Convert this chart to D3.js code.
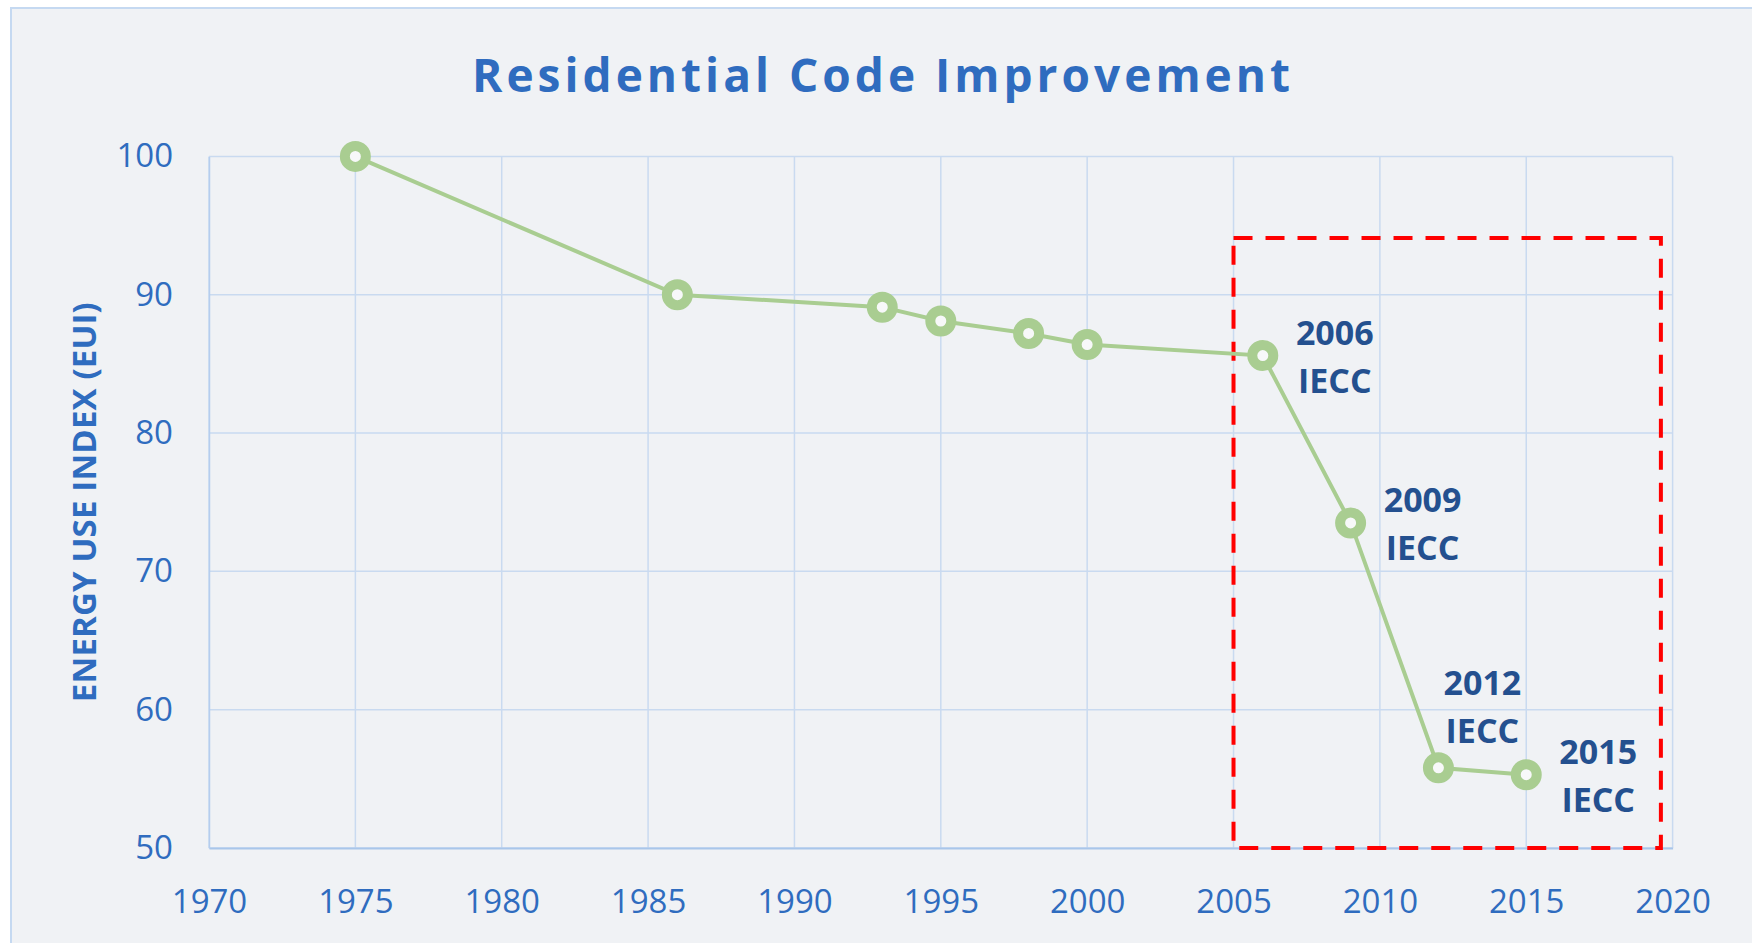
<!DOCTYPE html>
<html>
<head>
<meta charset="utf-8">
<script src="https://cdn.jsdelivr.net/npm/d3@7"></script>
<style>
  body { margin: 0; background: #fff; }
  svg { display: block; }
  .tick text { font-family: "Open Sans", sans-serif; fill: #2f6cbf; }
</style>
</head>
<body>
<div id="chart"></div>
<script>
// data
var years  = [1975, 1986, 1993, 1995, 1998, 2000, 2006, 2009, 2012, 2015];
var eui    = [100, 90, 89.1, 88.1, 87.2, 86.4, 85.6, 73.5, 55.8, 55.3];
var xTicks = [1970, 1975, 1980, 1985, 1990, 1995, 2000, 2005, 2010, 2015, 2020];
var yTicks = [50, 60, 70, 80, 90, 100];
var codeYears  = [2006, 2009, 2012, 2015];
var codeLabels = ["IECC", "IECC", "IECC", "IECC"];
// dashed highlight box, in data units
var boxYears = [2005, 2019.6];
var boxEui   = [50, 94.1];

var W = 1752, H = 943;
var margin = {top: 156.4, right: W - 1672.6, bottom: H - 848, left: 209};

var svg = d3.select("#chart").append("svg")
    .attr("width", W)
    .attr("height", H);

// chart area background + border
svg.append("rect")
    .attr("x", 11).attr("y", 8)
    .attr("width", W + 20).attr("height", H + 20)
    .attr("fill", "#f0f2f5")
    .attr("stroke", "#c5d9f1")
    .attr("stroke-width", 2);

var x = d3.scaleLinear().domain([1970, 2020]).range([margin.left, W - margin.right]);
var y = d3.scaleLinear().domain([50, 100]).range([H - margin.bottom, margin.top]);

// grid lines
svg.append("g")
    .selectAll("line.vgrid")
    .data(xTicks)
    .enter().append("line")
    .attr("x1", function(d) { return x(d); })
    .attr("x2", function(d) { return x(d); })
    .attr("y1", y(50)).attr("y2", y(100))
    .attr("stroke", "#c9daf0")
    .attr("stroke-width", 1.5);

svg.append("g")
    .selectAll("line.hgrid")
    .data(yTicks)
    .enter().append("line")
    .attr("x1", x(1970)).attr("x2", x(2020))
    .attr("y1", function(d) { return y(d); })
    .attr("y2", function(d) { return y(d); })
    .attr("stroke", "#c9daf0")
    .attr("stroke-width", 1.5);

// axes
var xAxis = svg.append("g")
    .attr("transform", "translate(0," + y(50) + ")")
    .call(d3.axisBottom(x).tickValues(xTicks).tickFormat(d3.format("d")).tickSize(0).tickPadding(42));
xAxis.select(".domain").attr("stroke", "#a9c6ea").attr("stroke-width", 2);
xAxis.selectAll("text").style("font-size", "33px");

var yAxis = svg.append("g")
    .attr("transform", "translate(" + x(1970) + ",0)")
    .call(d3.axisLeft(y).tickValues(yTicks).tickSize(0).tickPadding(36));
yAxis.select(".domain").attr("stroke", "#b5cdee").attr("stroke-width", 1.5);
yAxis.selectAll("text").style("font-size", "33px");

// title
svg.append("text")
    .attr("x", 881)
    .attr("y", 91.5)
    .attr("text-anchor", "middle")
    .attr("textLength", 818)
    .attr("lengthAdjust", "spacing")
    .style("font-family", "'Open Sans', sans-serif")
    .style("font-weight", "bold")
    .style("font-size", "46px")
    .style("fill", "#2f6cbf")
    .text("Residential Code Improvement");

// y axis title
svg.append("text")
    .attr("transform", "translate(96," + ((y(50) + y(100)) / 2) + ") rotate(-90)")
    .attr("text-anchor", "middle")
    .attr("textLength", 400)
    .attr("lengthAdjust", "spacing")
    .style("font-family", "'Open Sans', sans-serif")
    .style("font-weight", "bold")
    .style("font-size", "33px")
    .style("fill", "#2f6cbf")
    .text("ENERGY USE INDEX (EUI)");

// highlight box
svg.append("rect")
    .attr("x", x(boxYears[0]))
    .attr("y", y(boxEui[1]))
    .attr("width", x(boxYears[1]) - x(boxYears[0]))
    .attr("height", y(boxEui[0]) - y(boxEui[1]))
    .attr("fill", "none")
    .attr("stroke", "#ff0000")
    .attr("stroke-width", 4)
    .attr("stroke-dasharray", "19 13");

// line + markers
var points = years.map(function(d, i) { return {year: d, value: eui[i]}; });

var line = d3.line()
    .x(function(d) { return x(d.year); })
    .y(function(d) { return y(d.value); });

svg.append("path")
    .datum(points)
    .attr("d", line)
    .attr("fill", "none")
    .attr("stroke", "#a9cd91")
    .attr("stroke-width", 4);

svg.selectAll("circle.marker")
    .data(points)
    .enter().append("circle")
    .attr("class", "marker")
    .attr("cx", function(d) { return x(d.year); })
    .attr("cy", function(d) { return y(d.value); })
    .attr("r", 10.5)
    .attr("fill", "#f7f8f9")
    .attr("stroke", "#a9cd91")
    .attr("stroke-width", 10);

// code labels next to the last four points
var labelGroup = svg.append("g")
    .style("font-family", "'Open Sans', sans-serif")
    .style("font-weight", "bold")
    .style("font-size", "34px")
    .style("fill", "#24508f")
    .attr("text-anchor", "middle");

codeYears.forEach(function(yr, i) {
  var v = eui[years.indexOf(yr)];
  var px = x(yr), py = y(v);
  // the 2012 label sits above its point, the others to the right
  var dx = yr === 2012 ? 44 : 72;
  var dy = yr === 2012 ? -73 : -11;
  var t = labelGroup.append("text")
      .attr("x", px + dx)
      .attr("y", py + dy);
  t.append("tspan").attr("x", px + dx).text(String(yr));
  t.append("tspan").attr("x", px + dx).attr("dy", 48).text(codeLabels[i]);
});
</script>
</body>
</html>
